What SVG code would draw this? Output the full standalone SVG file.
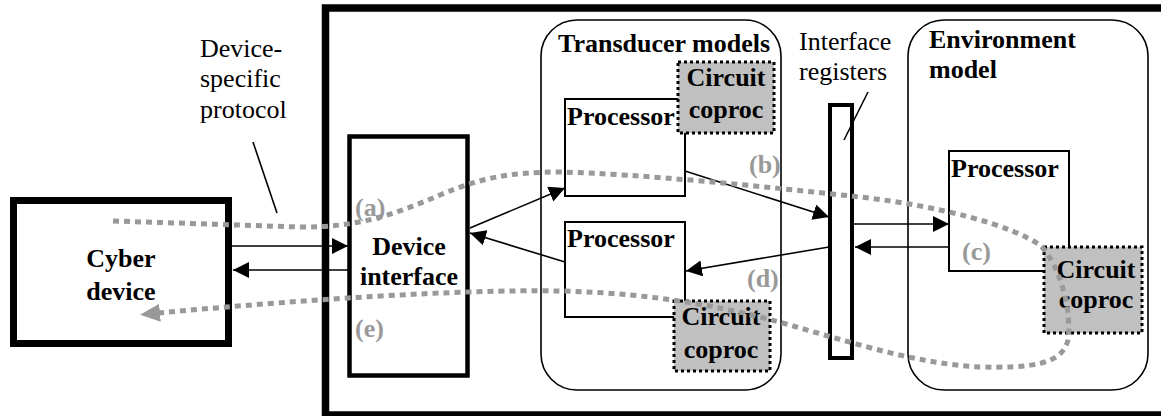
<svg xmlns="http://www.w3.org/2000/svg" width="1161" height="416" viewBox="0 0 1161 416">
  <style>
    text { font-family: "Liberation Serif", Tinos, "Times New Roman", "DejaVu Serif", serif; font-size: 26px; fill: #000; }
    .b { font-weight: bold; }
    .lbl { font-weight: bold; fill: #999; }
    .box { fill: #fff; stroke: #000; stroke-width: 2; }
    .group { fill: none; stroke: #000; stroke-width: 1.6; }
    .coproc { fill: #c0c0c0; stroke: #000; stroke-width: 3; stroke-dasharray: 3 3; }
    .link { fill: none; stroke: #000; stroke-width: 1.6; marker-end: url(#arrow); }
    .flow { fill: none; stroke: #999; stroke-width: 5; stroke-dasharray: 6 5; marker-end: url(#grayArrow); }
  </style>
  <defs>
    <marker id="arrow" markerUnits="userSpaceOnUse" markerWidth="16" markerHeight="16" viewBox="0 0 14 14" refX="14" refY="7" orient="auto">
      <path d="M0,0 L14,7 L0,14 z" fill="#000"/>
    </marker>
    <marker id="grayArrow" markerUnits="userSpaceOnUse" markerWidth="20" markerHeight="18" viewBox="0 0 20 18" refX="2" refY="9" orient="auto">
      <path d="M0,0 L20,9 L0,18 z" fill="#999"/>
    </marker>
  </defs>

  <!-- simulator boundary -->
  <g id="simulator">
    <rect x="325.5" y="8" width="900" height="407" fill="none" stroke="#000" stroke-width="7.5"/>
  </g>

  <g id="protocol-label">
    <text x="200" y="57">Device-</text>
    <text x="200" y="87">specific</text>
    <text x="200" y="118">protocol</text>
    <line x1="253" y1="142" x2="277" y2="213" stroke="#000" stroke-width="1.6"/>
  </g>

  <g id="cyber-device">
    <rect x="13.5" y="200.5" width="215" height="143" fill="#fff" stroke="#000" stroke-width="7"/>
    <text class="b" x="121" y="267" text-anchor="middle">Cyber</text>
    <text class="b" x="121" y="300" text-anchor="middle">device</text>
  </g>

  <g id="device-interface">
    <rect x="349.5" y="136.5" width="118" height="239" fill="#fff" stroke="#000" stroke-width="4.5"/>
    <text class="b" x="409" y="255" text-anchor="middle">Device</text>
    <text class="b" x="409" y="285" text-anchor="middle">interface</text>
  </g>

  <g id="transducer-models">
    <rect class="group" x="541" y="20" width="240" height="370" rx="36"/>
    <text class="b" x="558" y="52">Transducer models</text>
  </g>

  <g id="transducer-processor-1">
    <rect class="box" x="565" y="99" width="120" height="97"/>
    <text class="b" x="567" y="125">Processor</text>
  </g>
  <g id="transducer-coproc-1">
    <rect class="coproc" x="678" y="62" width="96" height="71"/>
    <text class="b" x="726" y="86" text-anchor="middle">Circuit</text>
    <text class="b" x="726" y="118" text-anchor="middle">coproc</text>
  </g>

  <g id="transducer-processor-2">
    <rect class="box" x="565" y="222" width="120" height="95"/>
    <text class="b" x="567" y="247">Processor</text>
  </g>
  <g id="transducer-coproc-2">
    <rect class="coproc" x="674" y="301" width="96" height="70"/>
    <text class="b" x="721" y="325" text-anchor="middle">Circuit</text>
    <text class="b" x="721" y="358" text-anchor="middle">coproc</text>
  </g>

  <g id="interface-registers">
    <rect x="830" y="105" width="22" height="253" fill="#fff" stroke="#000" stroke-width="4"/>
    <text x="799" y="50">Interface</text>
    <text x="799" y="80">registers</text>
    <line x1="868" y1="92" x2="844" y2="140" stroke="#000" stroke-width="1.6"/>
  </g>

  <g id="environment-model">
    <rect class="group" x="908" y="20" width="240" height="370" rx="36"/>
    <text class="b" x="929" y="48">Environment</text>
    <text class="b" x="929" y="78">model</text>
  </g>
  <g id="environment-processor">
    <rect class="box" x="949" y="151" width="120" height="120"/>
    <text class="b" x="951" y="177">Processor</text>
  </g>
  <g id="environment-coproc">
    <rect class="coproc" x="1044" y="247" width="98" height="86"/>
    <text class="b" x="1096" y="278" text-anchor="middle">Circuit</text>
    <text class="b" x="1096" y="308" text-anchor="middle">coproc</text>
  </g>

  <!-- connectors -->
  <g id="connectors">
    <line class="link" x1="232" y1="246" x2="348" y2="246"/>
    <line class="link" x1="348" y1="270" x2="233" y2="270"/>
    <line class="link" x1="470" y1="228" x2="565" y2="188"/>
    <line class="link" x1="565" y1="262" x2="470" y2="233"/>
    <line class="link" x1="685" y1="171" x2="829" y2="217"/>
    <line class="link" x1="829" y1="247" x2="686" y2="271"/>
    <line class="link" x1="854" y1="224" x2="949" y2="224"/>
    <line class="link" x1="949" y1="247" x2="855" y2="247"/>
  </g>

  <!-- data flow through the system -->
  <g id="flow">
    <path class="flow" d="M113,221 L300,227 C360,228 400,212 440,195 C480,178 510,172 560,172 C640,174 760,186 860,197 C940,206 1010,225 1040,245 C1060,265 1072,310 1068,340 C1062,365 1030,368 980,367 C920,364 860,345 800,328 C740,310 660,293 560,291 C460,289 300,300 158,313"/>
    <text class="lbl" x="355" y="216">(a)</text>
    <text class="lbl" x="749" y="173">(b)</text>
    <text class="lbl" x="962" y="260">(c)</text>
    <text class="lbl" x="747" y="287">(d)</text>
    <text class="lbl" x="355" y="337">(e)</text>
  </g>
</svg>
